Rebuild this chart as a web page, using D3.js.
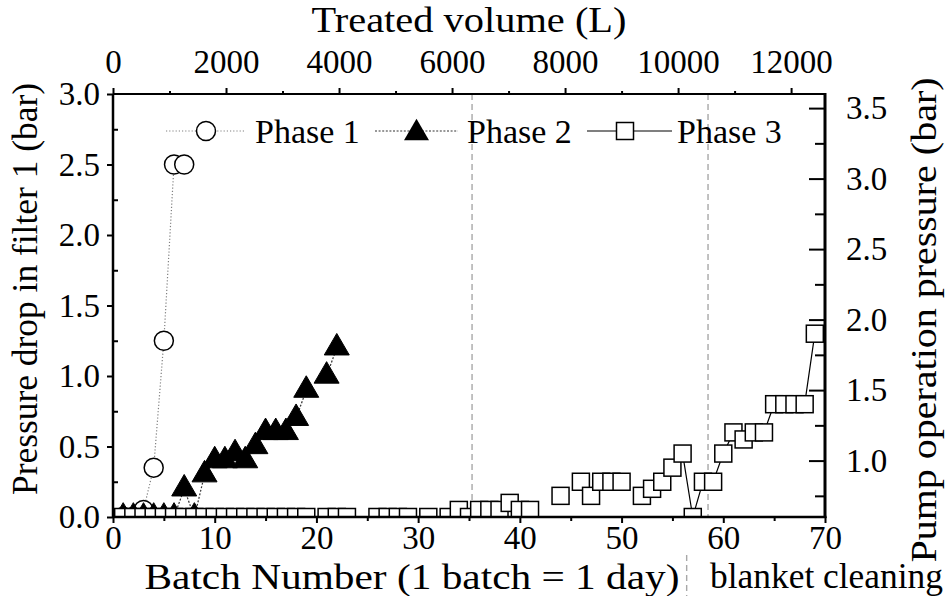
<!DOCTYPE html>
<html>
<head>
<meta charset="utf-8">
<script src="https://cdn.jsdelivr.net/npm/d3@7"></script>
<style>
  html, body { margin: 0; padding: 0; background: #fff; }
  svg text { font-family: "Liberation Serif", "Times New Roman", serif; fill: #000; }
</style>
</head>
<body>
<svg id="chart" width="949" height="596"></svg>
<script>
// ---------- data ----------
const phase1Days = [1, 2, 3, 4, 5, 6, 7];
const phase1Vals = [0, 0, 0.05, 0.35, 1.25, 2.5, 2.5];

const phase2Days = [1, 2, 3, 4, 5, 6, 7, 8, 9, 10, 11, 12, 13, 14, 15, 16, 17, 18, 19, 20, 21, 22];
const phase2Vals = [0, 0, 0, 0, 0, 0, 0.2, 0, 0.3, 0.4, 0.4, 0.45, 0.4, 0.5, 0.6, 0.6, 0.6, 0.7, 0.9, null, 1.0, 1.2];

const phase3Days = d3.range(1, 70);
const phase3Vals = [
  0, 0, 0, 0, 0, 0, 0, 0, 0, 0,          // 1-10
  0, 0, 0, 0, 0, 0, 0, 0, 0, null,       // 11-20
  0, 0, 0, null, null, 0, 0, 0, 0, null, // 21-30
  0, null, 0, 0.05, 0, 0.05, 0.05, 0.05, 0.1, 0.05, // 31-40
  0.05, null, null, 0.15, null, 0.25, 0.15, 0.25, 0.25, 0.25, // 41-50
  null, 0.15, 0.2, 0.25, 0.35, 0.45, 0, 0.25, 0.25, 0.45,     // 51-60
  0.6, 0.55, 0.6, 0.6, 0.8, 0.8, 0.8, 0.8, 1.3                 // 61-69
];

const bottomTicks = [0, 10, 20, 30, 40, 50, 60, 70];
const topTicks = [0, 2000, 4000, 6000, 8000, 10000, 12000];
const leftTicks = [0, 0.5, 1.0, 1.5, 2.0, 2.5, 3.0];
const rightTicks = [1.0, 1.5, 2.0, 2.5, 3.0, 3.5];

const cleaningDays = [35.3, 58.5];     // vertical dashed lines in plot
const blanketDay = 56.4;               // short dashed mark below axis
const seriesNames = ["Phase 1", "Phase 2", "Phase 3"];

const titleTop = "Treated volume (L)";
const titleBottom = "Batch Number (1 batch = 1 day)";
const titleLeft = "Pressure drop in filter 1 (bar)";
const titleRight = "Pump operation pressure (bar)";
const blanketLabel = "blanket cleaning";

// ---------- layout ----------
const L = 113, R = 825, T = 94, B = 517;
const FS = 33;

const svg = d3.select("#chart");
const xB = d3.scaleLinear().domain([0, 70]).range([L, R]);
const xT = d3.scaleLinear().domain([0, 12600]).range([L, R]);
const yL = d3.scaleLinear().domain([0, 3]).range([B, T]);
const yR = d3.scaleLinear().domain([0.6, 3.6]).range([B, T]);

svg.append("defs").append("clipPath").attr("id", "plotclip")
  .append("rect").attr("x", L).attr("y", T).attr("width", R - L).attr("height", B - T);

// vertical dashed lines
svg.append("g").selectAll("line").data(cleaningDays).join("line")
  .attr("x1", d => xB(d)).attr("x2", d => xB(d))
  .attr("y1", T).attr("y2", B)
  .attr("stroke", "#a8a8a8").attr("stroke-width", 1.4).attr("stroke-dasharray", "6,4");

svg.append("line")
  .attr("x1", xB(blanketDay)).attr("x2", xB(blanketDay))
  .attr("y1", 555).attr("y2", 596)
  .attr("stroke", "#a8a8a8").attr("stroke-width", 1.4).attr("stroke-dasharray", "6,4");

// ---------- markers ----------
const TRI_W = 25, TRI_H = 21.5;
function triPath(cx, cy) {
  return `M${cx},${cy - 2 * TRI_H / 3}L${cx + TRI_W / 2},${cy + TRI_H / 3}L${cx - TRI_W / 2},${cy + TRI_H / 3}Z`;
}
const SQ = 17, CR = 9.5;

const plot = svg.append("g").attr("clip-path", "url(#plotclip)");

const p1 = phase1Days.map((d, i) => ({ d, v: phase1Vals[i] }));
const p2 = phase2Days.map((d, i) => ({ d, v: phase2Vals[i] }));
const p3 = phase3Days.map((d, i) => ({ d, v: phase3Vals[i] }));

const line = d3.line().defined(p => p.v !== null).x(p => xB(p.d)).y(p => yL(p.v));

// Phase 1
plot.append("path").datum(p1).attr("d", line)
  .attr("fill", "none").attr("stroke", "#808080").attr("stroke-width", 1.2).attr("stroke-dasharray", "1.2,2");
plot.append("g").selectAll("circle").data(p1.filter(p => p.v !== null)).join("circle")
  .attr("cx", p => xB(p.d)).attr("cy", p => yL(p.v)).attr("r", CR)
  .attr("fill", "#fff").attr("stroke", "#000").attr("stroke-width", 1.5);

// Phase 2
plot.append("path").datum(p2).attr("d", line)
  .attr("fill", "none").attr("stroke", "#333").attr("stroke-width", 1.2).attr("stroke-dasharray", "2,1.6");
plot.append("g").selectAll("path").data(p2.filter(p => p.v !== null)).join("path")
  .attr("d", p => triPath(xB(p.d), yL(p.v)))
  .attr("fill", "#000").attr("stroke", "#000").attr("stroke-width", 1);

// Phase 3
plot.append("path").datum(p3).attr("d", line)
  .attr("fill", "none").attr("stroke", "#000").attr("stroke-width", 1.2);
plot.append("g").selectAll("rect").data(p3.filter(p => p.v !== null)).join("rect")
  .attr("x", p => xB(p.d) - SQ / 2).attr("y", p => yL(p.v) - SQ / 2)
  .attr("width", SQ).attr("height", SQ)
  .attr("fill", "#fff").attr("stroke", "#000").attr("stroke-width", 1.5);

// ---------- axes ----------
const ax = svg.append("g");
function tickStyle(g) {
  g.select(".domain").remove();
  g.selectAll(".tick line").attr("stroke", "#000").attr("stroke-width", 2);
  g.selectAll(".tick text").attr("font-size", FS).attr("font-family", "Liberation Serif").attr("fill", "#000");
}

// bottom
const gB = ax.append("g").attr("transform", `translate(0,${B})`)
  .call(d3.axisBottom(xB).tickValues(bottomTicks).tickSize(6).tickPadding(6).tickFormat(d3.format("d")));
tickStyle(gB);
gB.selectAll(".tick text").attr("dy", null).attr("y", 32);
ax.append("g").attr("transform", `translate(0,${B})`)
  .call(d3.axisBottom(xB).tickValues(d3.range(5, 70, 10)).tickSize(4).tickFormat(""))
  .call(tickStyle);

// top
const gT = ax.append("g").attr("transform", `translate(0,${T})`)
  .call(d3.axisTop(xT).tickValues(topTicks).tickSize(6).tickPadding(6).tickFormat(d3.format("d")));
tickStyle(gT);
gT.selectAll(".tick text").attr("y", -21);
ax.append("g").attr("transform", `translate(0,${T})`)
  .call(d3.axisTop(xT).tickValues(d3.range(1000, 12600, 2000)).tickSize(3).tickFormat(""))
  .call(tickStyle);

// left
const gLft = ax.append("g").attr("transform", `translate(${L},0)`)
  .call(d3.axisLeft(yL).tickValues(leftTicks).tickSize(6).tickPadding(7).tickFormat(d3.format(".1f")));
tickStyle(gLft);
gLft.selectAll(".tick text").attr("dy", "0.33em");
ax.append("g").attr("transform", `translate(${L},0)`)
  .call(d3.axisRight(yL).tickValues(d3.range(0.25, 3, 0.5)).tickSize(5).tickFormat(""))
  .call(tickStyle);

// right (ticks pointing inward)
const gRt = ax.append("g").attr("transform", `translate(${R},0)`)
  .call(d3.axisRight(yR).tickValues(rightTicks).tickSize(0).tickPadding(21).tickFormat(d3.format(".1f")));
tickStyle(gRt);
gRt.selectAll(".tick text").attr("dy", "0.33em");
ax.append("g").attr("transform", `translate(${R},0)`)
  .call(d3.axisLeft(yR).tickValues(rightTicks).tickSize(16).tickFormat(""))
  .call(tickStyle);
ax.append("g").attr("transform", `translate(${R},0)`)
  .call(d3.axisLeft(yR).tickValues(d3.range(0.75, 3.6, 0.5)).tickSize(10).tickFormat(""))
  .call(tickStyle);

// frame
ax.append("line").attr("x1", L).attr("x2", R).attr("y1", T).attr("y2", T).attr("stroke", "#000").attr("stroke-width", 2);
ax.append("line").attr("x1", L).attr("x2", R + 1.5).attr("y1", B).attr("y2", B).attr("stroke", "#000").attr("stroke-width", 2.5);
ax.append("line").attr("x1", L).attr("x2", L).attr("y1", T).attr("y2", B).attr("stroke", "#000").attr("stroke-width", 2.5);
ax.append("line").attr("x1", R).attr("x2", R).attr("y1", T - 1).attr("y2", B + 1).attr("stroke", "#000").attr("stroke-width", 3);

// ---------- titles ----------
function stretchText(x, y, size, len, txt, rotate) {
  const t = svg.append("text")
    .attr("text-anchor", "middle").attr("font-size", size)
    .attr("textLength", len).attr("lengthAdjust", "spacingAndGlyphs")
    .text(txt);
  if (rotate) t.attr("transform", `translate(${x},${y}) rotate(-90)`);
  else t.attr("x", x).attr("y", y);
  return t;
}
stretchText(469, 32, 35, 315, titleTop, false);
stretchText(412, 589, 35, 535, titleBottom, false);
stretchText(37, 289, 35, 412, titleLeft, true);
stretchText(936, 320, 36, 485, titleRight, true);
svg.append("text").attr("x", 710).attr("y", 588).attr("font-size", 35)
  .attr("textLength", 233).attr("lengthAdjust", "spacingAndGlyphs").text(blanketLabel);

// ---------- legend ----------
const LY = 131;
const leg = svg.append("g");
const legItems = [
  { name: seriesNames[0], x1: 166, x2: 246, mx: 206, tx: 255, kind: "circle" },
  { name: seriesNames[1], x1: 375, x2: 458, mx: 416.5, tx: 467, kind: "tri" },
  { name: seriesNames[2], x1: 587, x2: 672, mx: 625, tx: 677, kind: "square" }
];
legItems.forEach(it => {
  const ln = leg.append("line").attr("x1", it.x1).attr("x2", it.x2).attr("y1", LY).attr("y2", LY);
  if (it.kind === "circle") {
    ln.attr("stroke", "#808080").attr("stroke-width", 1.2).attr("stroke-dasharray", "1.2,2");
    leg.append("circle").attr("cx", it.mx).attr("cy", LY).attr("r", CR)
      .attr("fill", "#fff").attr("stroke", "#000").attr("stroke-width", 1.5);
  } else if (it.kind === "tri") {
    ln.attr("stroke", "#333").attr("stroke-width", 1.2).attr("stroke-dasharray", "2,1.6");
    leg.append("path").attr("d", triPath(it.mx, LY + 2)).attr("fill", "#000");
  } else {
    ln.attr("stroke", "#000").attr("stroke-width", 1.2);
    leg.append("rect").attr("x", it.mx - SQ / 2).attr("y", LY - SQ / 2).attr("width", SQ).attr("height", SQ)
      .attr("fill", "#fff").attr("stroke", "#000").attr("stroke-width", 1.5);
  }
  leg.append("text").attr("x", it.tx).attr("y", 143).attr("font-size", 34).text(it.name);
});
</script>
</body>
</html>
